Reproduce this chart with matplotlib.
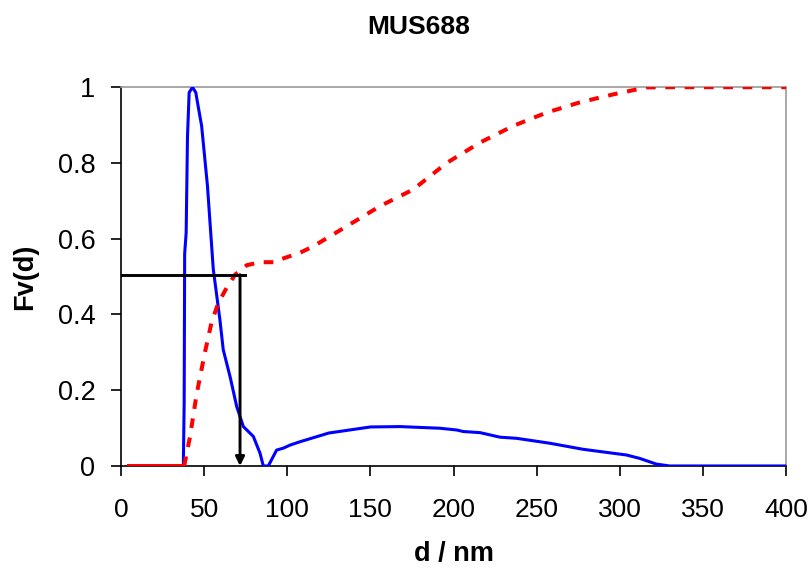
import matplotlib
matplotlib.use("Agg")
import matplotlib.pyplot as plt

plt.rcParams["font.family"] = ["Liberation Sans", "DejaVu Sans"]

# cumulative volume fraction (red, dashed)
d_cum = [5, 38, 41.5, 45.5, 50.5, 54.5, 58.5, 63.5, 68.6, 75.6, 83.6, 92.6,
         95.6, 107.7, 115.7, 135.8, 155.8, 175.8, 195.9, 216, 236, 256, 276,
         296, 316, 330, 400]
f_cum = [0, 0, 0.077, 0.19, 0.30, 0.38, 0.43, 0.47, 0.505, 0.53, 0.538, 0.538,
         0.545, 0.563, 0.58, 0.633, 0.686, 0.73, 0.80, 0.854, 0.898, 0.933,
         0.96, 0.981, 0.9995, 1.0, 1.0]

# normalised distribution (blue, solid)
d_dist = [5, 37.5, 38, 38.3, 39.2, 40, 41, 43, 45, 46, 48.5, 52, 55.5, 59.5,
          61.5, 65.6, 69.6, 73.6, 79.6, 83.6, 85.6, 88.6, 93.6, 97.6, 101.6,
          107.7, 125, 150, 167.8, 191.9, 202, 205.8, 216, 228, 238, 258, 278,
          304, 312, 322, 330, 400]
f_dist = [0, 0, 0.166, 0.56, 0.616, 0.87, 0.986, 1.0, 0.986, 0.96, 0.898, 0.74,
          0.52, 0.386, 0.307, 0.236, 0.157, 0.104, 0.078, 0.034, 0, 0, 0.042,
          0.047, 0.055, 0.064, 0.087, 0.103, 0.104, 0.0996, 0.095, 0.091, 0.088,
          0.076, 0.073, 0.06, 0.044, 0.029, 0.02, 0.005, 0, 0]

# median marker
f_half = 0.505
d_half = 71.6
d_line_end = 74.5

fig = plt.figure(figsize=(8.12, 5.70), dpi=100)
ax = fig.add_axes([0.149, 0.1825, 0.819, 0.6645])

ax.plot(d_dist, f_dist, color="#0000ff", lw=2.2, zorder=3)
# flat start looks solid in the original (dense points), rest is dashed
ax.plot(d_cum[:2], f_cum[:2], color="#ff0000", lw=2.9, zorder=4)
ax.plot(d_cum[1:], f_cum[1:], color="#ff0000", lw=2.9, dashes=(2.4, 2.4),
        zorder=4)

ax.plot([0, d_line_end], [f_half, f_half], color="black", lw=2.1, zorder=5)
ax.annotate("", xy=(d_half, 0), xytext=(d_half, f_half),
            arrowprops=dict(arrowstyle="-|>", color="black", lw=2.1,
                            mutation_scale=13, shrinkA=0, shrinkB=0),
            zorder=5)

ax.set_xlim(0, 400)
ax.set_ylim(0, 1)
ax.set_xticks(range(0, 401, 50))
ax.set_yticks([0, 0.2, 0.4, 0.6, 0.8, 1])
ax.set_yticklabels(["0", "0.2", "0.4", "0.6", "0.8", "1"])

for side in ("top", "right"):
    ax.spines[side].set_color("#999999")
    ax.spines[side].set_linewidth(1.2)
for side in ("left", "bottom"):
    ax.spines[side].set_color("black")
    ax.spines[side].set_linewidth(1.2)

ax.tick_params(axis="y", direction="out", length=7, width=1.2, pad=11.5,
               labelsize=19.5)
ax.tick_params(axis="x", direction="out", length=7, width=1.2, pad=16,
               labelsize=19)

# title is centred on the whole chart area, not the plot box
fig.text(0.516, 0.952, "MUS688", fontsize=19, fontweight="bold",
         ha="center", va="center")
ax.set_xlabel("d / nm", fontsize=19.5, fontweight="bold", labelpad=14)
ax.set_ylabel("Fv(d)", fontsize=19.5, fontweight="bold", labelpad=14)

fig.savefig("out.png", dpi=100)
